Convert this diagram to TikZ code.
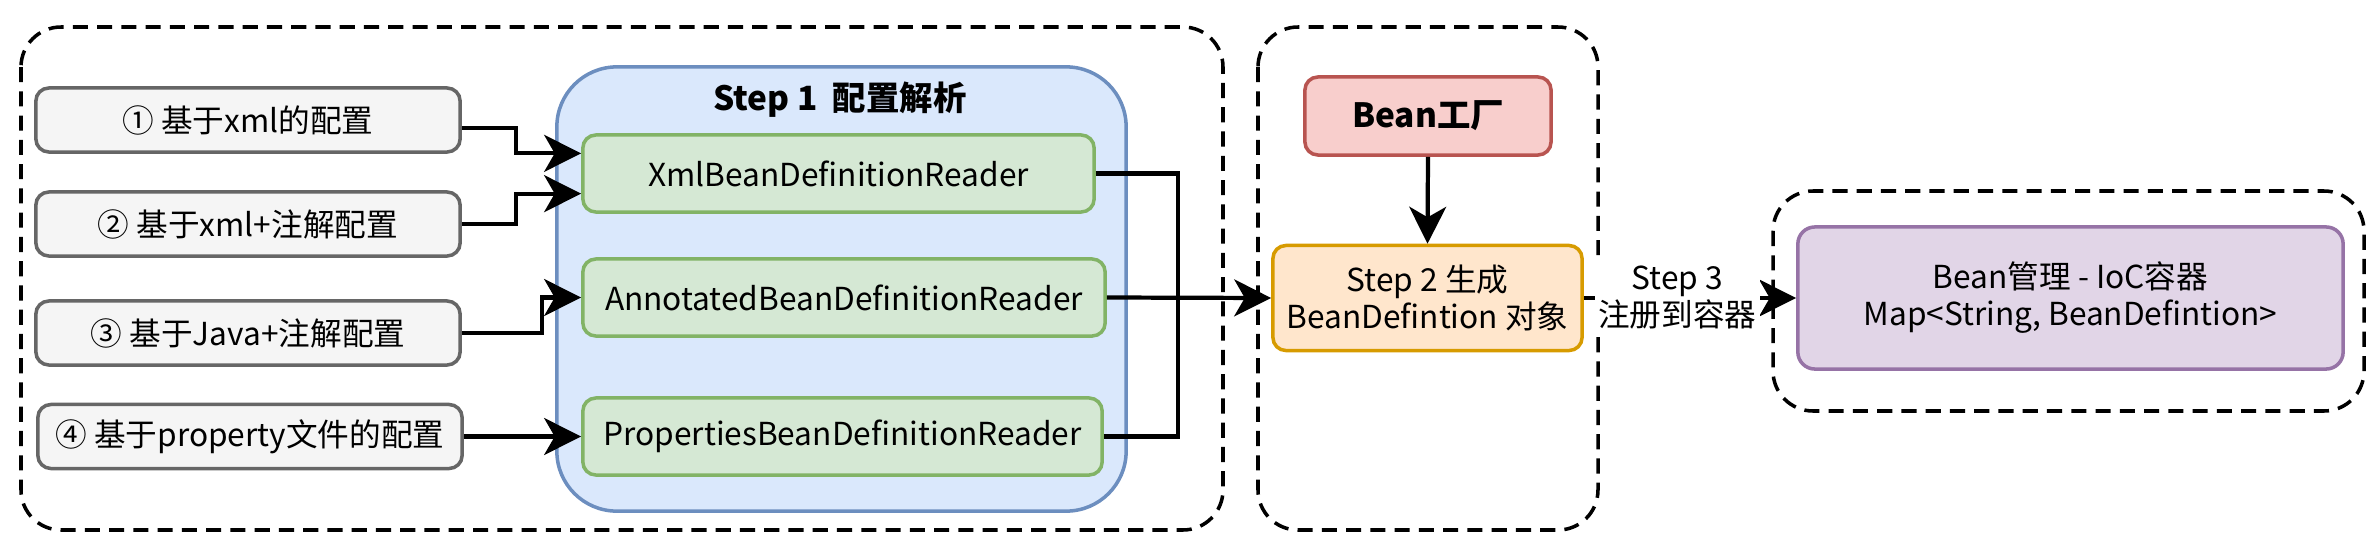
\documentclass[tikz,border=0pt]{standalone}
\usepackage{fontspec}
\setmainfont{Noto Sans CJK SC}
\usetikzlibrary{arrows.meta,calc}
\definecolor{grayfill}{HTML}{F5F5F5}
\definecolor{graydraw}{HTML}{666666}
\definecolor{bluefill}{HTML}{DAE8FC}
\definecolor{bluedraw}{HTML}{6C8EBF}
\definecolor{greenfill}{HTML}{D5E8D4}
\definecolor{greendraw}{HTML}{82B366}
\definecolor{redfill}{HTML}{F8CECC}
\definecolor{reddraw}{HTML}{B85450}
\definecolor{orangefill}{HTML}{FFE6CC}
\definecolor{orangedraw}{HTML}{D79B00}
\definecolor{purplefill}{HTML}{E1D5E7}
\definecolor{purpledraw}{HTML}{9673A6}
\tikzset{
  txt/.style={font=\fontsize{9pt}{10.5pt}\selectfont, align=center},
  box/.style={txt, rounded corners=0.13cm, line width=1pt, inner sep=0pt},
  graybox/.style={box, fill=grayfill, draw=graydraw, minimum width=4.24cm, minimum height=0.64cm},
  greenbox/.style={box, fill=greenfill, draw=greendraw, minimum height=0.77cm},
  redbox/.style={box, fill=redfill, draw=reddraw},
  orangebox/.style={box, fill=orangefill, draw=orangedraw},
  purplebox/.style={box, fill=purplefill, draw=purpledraw, rounded corners=0.17cm},
  container/.style={fill=bluefill, draw=bluedraw, line width=1pt, rounded corners=0.6cm, inner sep=0pt},
  dashbox/.style={draw=black, line width=1pt, dash pattern=on 4.3pt off 2.6pt, rounded corners=0.4cm},
  conn/.style={line width=1.2pt, -{Stealth[length=10.5pt, width=10.5pt, inset=3pt]}},
  plain/.style={line width=1.2pt},
}
\begin{document}
\begin{tikzpicture}[x=0.01cm, y=-0.01cm]
\useasboundingbox (0,0) rectangle (2374,548);

% dashed groups
\draw[dashbox] (21,27) rectangle (1223,530);
\draw[dashbox] (1258,27) rectangle (1598,530);
\draw[dashbox] (1773,191) rectangle (2364,411);

% step 1 container
\node[container, minimum width=5.69cm, minimum height=4.44cm] (cont) at (841.5,289) {};
\node[txt, font=\fontsize{9.5pt}{11pt}\selectfont\bfseries] (t1) at (840,100) {Step 1\ \ 配置解析};

% input boxes
\node[graybox] (b1) at (248,120) {① 基于xml的配置};
\node[graybox] (b2) at (248,224) {② 基于xml+注解配置};
\node[graybox] (b3) at (248,333) {③ 基于Java+注解配置};
\node[graybox] (b4) at (250,436.5) {④ 基于property文件的配置};

% readers
\node[greenbox, minimum width=5.11cm] (xml) at (838.5,173.5) {XmlBeanDefinitionReader};
\node[greenbox, minimum width=5.22cm] (ann) at (844,297.5) {AnnotatedBeanDefinitionReader};
\node[greenbox, minimum width=5.19cm] (prop) at (842.5,436.5) {PropertiesBeanDefinitionReader};

% step 2 group
\node[redbox, minimum width=2.46cm, minimum height=0.78cm, font=\fontsize{9.5pt}{11pt}\selectfont\bfseries] (fac) at (1428,116) {Bean工厂};
\node[orangebox, minimum width=3.09cm, minimum height=1.05cm] (step2) at (1427.5,298) {Step 2 生成\\BeanDefintion 对象};

% container
\node[purplebox, minimum width=5.45cm, minimum height=1.42cm] (ioc) at (2070.5,298) {Bean管理 - IoC容器\\Map<String, BeanDefintion>};

% connectors into readers
\draw[conn] ([yshift=-0.08cm]b1.east) -- ++(54,0) |- ($(xml.north west)!0.25!(xml.south west)$);
\draw[conn] (b2.east) -- ++(54,0) |- ($(xml.north west)!0.75!(xml.south west)$);
\draw[conn] (b3.east) -- ++(80,0) |- (ann.west);
\draw[conn] (b4.east) -- (prop.west);

% readers to step 2
\coordinate (j) at (1178,298);
\draw[plain] (xml.east) -| (j);
\draw[plain] (prop.east) -| (j);
\draw[conn] (ann.east) -- (step2.west);

% factory to step 2
\draw[conn] (fac.south) -- (step2.north);

% step 3
\draw[conn] (step2.east) -- node[txt, pos=0.44, fill=white, inner sep=1pt] (s3) {Step 3\\注册到容器} (ioc.west);
\end{tikzpicture}
\end{document}
